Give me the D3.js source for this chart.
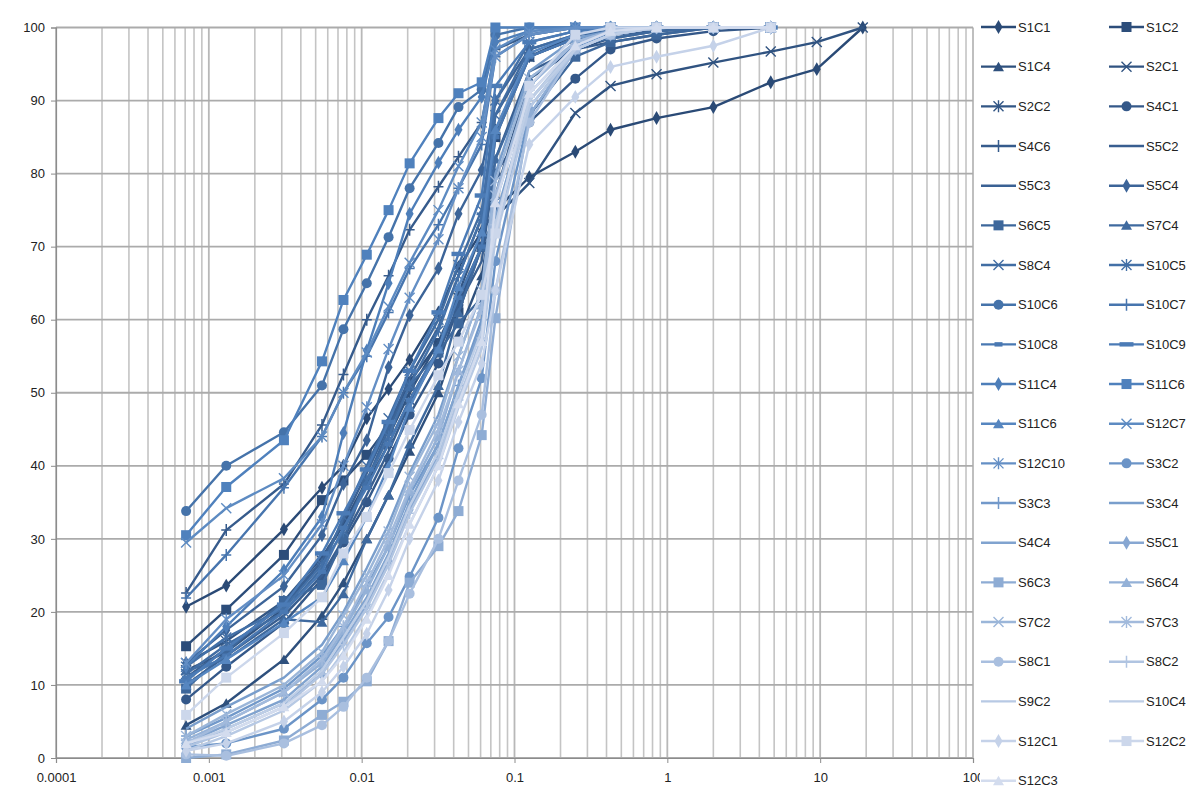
<!DOCTYPE html>
<html><head><meta charset="utf-8">
<script src="https://cdn.jsdelivr.net/npm/d3@7"></script>
<style>body{margin:0;background:#fff}text{font-family:"Liberation Sans","Open Sans",Arial,sans-serif}</style>
</head><body>
<svg id="c" width="1202" height="793"></svg>
<script>
// ---------- data ----------
const seriesNames = ["S1C1","S1C2","S1C4","S2C1","S2C2","S4C1","S4C6","S5C2","S5C3",
  "S5C4","S6C5","S7C4","S8C4","S10C5","S10C6","S10C7","S10C8","S10C9","S11C4","S11C6","S11C6","S12C7","S12C10",
  "S3C2","S3C3","S3C4","S4C4","S5C1","S6C3","S6C4","S7C2","S7C3","S8C1","S8C2","S9C2","S10C4","S12C1","S12C2","S12C3"];
const seriesMarkers = ["diamond","square","triangle","x","star","circle","plus","none","none",
  "diamond","square","triangle","x","star","circle","plus","dash","longdash","diamond","square","triangle","x","star",
  "circle","plus","none","none","diamond","square","triangle","x","star","circle","plus","none","none","diamond","square","triangle"];
// grain sizes (mm): hydrometer readings then sieves
const hydroSizes = [0.00071,0.0013,0.0031,0.0055,0.0076,0.0108,0.015,0.0206,0.0318,0.043,0.061];
const sieveSizes = [0.075,0.125,0.25,0.425,0.85,2,4.75,9.5,19];
// percent passing, one row per series (hydrometer values, then sieve values)
const passing = [
 [20.7,23.6,31.3,37.0,40.0,46.5,50.5,54.5,61.0,67.2,72.0, 75.0,79.5,83.0,86.0,87.6,89.1,92.5,94.3,100],
 [15.3,20.3,27.8,35.3,38.0,41.5,45.5,51.5,56.8,61.0,70.0, 85.0,96.0,99.0,99.5,100,100,100],
 [4.5,7.5,13.5,19.5,24.0,30.0,36.0,42.0,50.0,58.0,66.0, 77.0,93.0,97.0,98.5,99.5,100,100],
 [12.0,14.5,20.5,27.0,32.0,38.0,44.0,50.0,57.0,63.0,70.0, 74.0,78.7,88.3,92.0,93.6,95.2,96.7,98.0,100],
 [13.0,16.0,21.5,27.5,32.0,37.5,43.0,49.0,56.0,63.5,72.0, 86.0,96.0,98.5,99.0,100,100,100],
 [8.0,12.5,18.5,24.5,29.5,35.0,41.0,47.0,54.0,62.0,70.0, 80.0,87.0,93.0,97.0,98.5,99.5,100],
 [22.6,31.2,37.5,45.6,52.5,60.0,66.0,72.3,78.2,82.3,87.0, 97.0,99.0,100,100,100,100,100],
 [10.0,14.0,19.5,25.0,30.0,36.0,42.0,48.5,55.5,62.0,68.0, 82.0,94.0,97.0,98.0,99.0,100,100],
 [11.0,15.0,21.0,27.0,32.5,39.0,45.5,52.0,59.0,66.0,74.0, 88.0,96.0,98.5,99.0,99.5,100,100],
 [13.0,17.5,23.5,30.5,37.5,43.5,53.5,60.6,67.0,74.5,80.5, 90.0,97.0,99.0,99.5,100,100,100],
 [9.5,14.5,21.5,23.7,30.0,38.0,45.0,51.0,55.5,59.5,63.0, 74.0,88.0,96.0,98.0,99.0,100,100],
 [12.0,13.5,19.0,18.6,22.5,30.0,36.0,43.0,51.0,61.0,70.0, 82.0,93.0,97.5,98.5,99.5,100,100],
 [11.5,15.5,20.0,26.0,33.0,40.0,46.5,53.0,60.0,67.5,75.0, 88.0,97.0,99.0,99.5,100,100,100],
 [12.5,16.5,20.5,26.5,31.0,38.0,44.0,51.0,58.5,66.0,74.0, 90.0,98.0,99.5,100,100,100,100],
 [33.8,40.0,44.6,51.0,58.7,65.0,71.3,78.0,84.2,89.1,91.5, 99.0,100,100,100,100,100,100],
 [21.9,27.8,37.0,44.0,50.0,55.0,61.0,67.0,73.0,78.0,84.0, 96.0,99.0,100,100,100,100,100],
 [11.0,14.0,20.0,25.5,31.5,37.0,43.0,49.0,56.0,63.0,70.0, 85.0,96.0,98.5,99.5,100,100,100],
 [10.5,15.0,21.0,28.0,33.5,39.5,46.0,53.0,61.0,69.0,77.0, 92.0,98.0,99.5,100,100,100,100],
 [12.5,18.0,25.7,33.0,44.5,55.8,65.0,74.5,81.5,86.0,90.5, 98.0,99.5,100,100,100,100,100],
 [30.5,37.1,43.5,54.3,62.7,68.9,75.0,81.4,87.6,91.0,92.5, 100,100,100,100,100,100,100],
 [10.0,13.5,18.5,22.0,27.0,33.0,40.0,48.0,56.0,64.5,72.0, 86.0,96.5,99.0,100,100,100,100],
 [29.5,34.2,38.3,44.0,50.0,55.5,61.8,67.8,75.0,81.0,87.0, 97.0,99.5,100,100,100,100,100],
 [13.0,19.0,25.0,32.0,40.0,48.0,56.0,63.0,71.0,78.0,85.0, 96.0,99.0,100,100,100,100,100],
 [1.5,2.0,4.0,8.0,11.0,15.7,19.3,24.8,32.9,42.4,52.0, 68.0,88.0,97.0,99.5,100,100,100],
 [3.0,5.5,9.5,14.0,18.0,23.5,29.0,36.0,43.0,51.0,60.0, 76.0,92.0,98.0,99.5,100,100,100],
 [4.0,7.0,11.0,15.5,20.0,26.0,32.0,39.0,47.0,55.0,64.0, 80.0,94.0,98.5,99.5,100,100,100],
 [2.0,4.5,8.0,12.5,17.0,22.0,28.0,35.0,43.0,51.0,59.0, 74.0,90.0,97.0,99.0,100,100,100],
 [1.5,4.0,7.5,11.5,16.0,21.0,27.0,34.0,41.5,49.0,57.0, 72.0,89.0,97.0,99.0,100,100,100],
 [0.0,0.5,2.4,5.9,7.7,10.5,16.0,24.0,29.0,33.8,44.2, 60.2,88.0,97.0,99.0,100,100,100],
 [2.5,5.0,9.0,13.0,17.5,23.0,29.0,36.5,44.0,53.0,62.0, 76.0,91.0,97.5,99.5,100,100,100],
 [3.0,6.0,10.0,14.5,19.5,25.0,31.0,38.5,46.0,55.0,64.0, 79.0,93.0,98.0,99.5,100,100,100],
 [2.0,5.0,9.0,13.5,18.0,24.0,30.0,37.0,45.0,53.0,61.5, 77.0,92.0,98.0,99.5,100,100,100],
 [0.5,0.3,2.0,4.5,7.0,11.0,16.0,22.5,30.0,38.0,47.0, 64.0,87.0,97.0,99.0,100,100,100],
 [1.5,3.5,7.0,11.5,15.5,20.5,26.5,33.5,41.0,49.0,57.5, 73.0,90.0,97.5,99.5,100,100,100],
 [1.0,3.0,6.5,10.5,14.5,19.5,25.5,32.0,40.0,48.0,56.0, 71.0,89.0,97.0,99.0,100,100,100],
 [2.0,4.0,7.5,12.0,16.5,21.5,27.5,34.5,42.0,50.0,58.5, 73.0,90.0,97.0,99.0,100,100,100],
 [1.0,2.0,5.0,9.0,12.5,17.0,23.0,30.0,38.0,46.0,54.0, 64.0,84.0,90.5,94.6,96.0,97.5,100],
 [5.9,11.0,17.1,22.0,28.0,33.0,39.0,44.9,52.4,57.0,63.4, 71.8,92.0,99.0,100,100,100,100],
 [2.0,3.5,7.0,10.5,14.0,19.0,25.0,32.0,40.0,48.5,57.0, 76.0,91.0,97.5,99.5,100,100,100]
];
const xTickLabels = ["0.0001","0.001","0.01","0.1","1","10","100"];
const yTickValues = [0,10,20,30,40,50,60,70,80,90,100];

// ---------- layout ----------
const svg = d3.select("#c");
const L = 56, R = 973, T = 27.5, B = 758;
const x = d3.scaleLog().domain([1e-4, 100]).range([L, R]);
const y = d3.scaleLinear().domain([0, 100]).range([B, T]);
const color = d3.scaleLinear().domain([0, 19, 38]).range(["#2a4a76", "#4f81bd", "#d3dcee"]).interpolate(d3.interpolateRgb);

// gridlines
const minor = [];
for (let e = -4; e < 2; e++) for (let k = 2; k <= 9; k++) minor.push(k * Math.pow(10, e));
const major = xTickLabels.map(Number);
const grid = svg.append("g");
grid.selectAll(".vm").data(minor).join("line")
  .attr("x1", d => x(d)).attr("x2", d => x(d)).attr("y1", T).attr("y2", B)
  .attr("stroke", "#c4c4c4").attr("stroke-width", 1.6);
grid.selectAll(".vM").data(major).join("line")
  .attr("x1", d => x(d)).attr("x2", d => x(d)).attr("y1", T).attr("y2", B)
  .attr("stroke", "#b8b8b8").attr("stroke-width", 1.8);
grid.selectAll(".h").data(yTickValues).join("line")
  .attr("x1", L).attr("x2", R).attr("y1", d => y(d)).attr("y2", d => y(d))
  .attr("stroke", "#ababab").attr("stroke-width", 1.8);

// axes
const xAxis = d3.axisBottom(x).tickValues(major).tickFormat((d, i) => xTickLabels[i]).tickSize(5).tickPadding(10);
const gx = svg.append("g").attr("transform", `translate(0,${B})`).call(xAxis);
const yAxis = d3.axisLeft(y).tickValues(yTickValues).tickFormat(d3.format("d")).tickSize(5).tickPadding(6);
const gy = svg.append("g").attr("transform", `translate(${L},0)`).call(yAxis);
[gx, gy].forEach(g => {
  g.select(".domain").attr("stroke", "#8c8c8c").attr("stroke-width", 1.2);
  g.selectAll(".tick line").attr("stroke", "#8c8c8c");
  g.selectAll("text").attr("font-size", 13).attr("fill", "#222").style("font-family", '"Liberation Sans", Arial, sans-serif');
});

// marker drawing
function drawMarker(g, type, c, cx, cy, scale) {
  const s = scale || 1;
  switch (type) {
    case "diamond": g.append("path").attr("d", d3.symbol(d3.symbolDiamond, 56 * s)()).attr("transform", `translate(${cx},${cy})`).attr("fill", c); break;
    case "square": g.append("rect").attr("x", cx - 5 * s).attr("y", cy - 5 * s).attr("width", 10 * s).attr("height", 10 * s).attr("fill", c); break;
    case "triangle": g.append("path").attr("d", `M${cx},${cy - 5 * s}L${cx + 5.5 * s},${cy + 4.5 * s}L${cx - 5.5 * s},${cy + 4.5 * s}Z`).attr("fill", c); break;
    case "circle": g.append("circle").attr("cx", cx).attr("cy", cy).attr("r", 5 * s).attr("fill", c); break;
    case "x": g.append("path").attr("d", `M${cx - 5},${cy - 5}L${cx + 5},${cy + 5}M${cx - 5},${cy + 5}L${cx + 5},${cy - 5}`).attr("stroke", c).attr("stroke-width", 1.4).attr("fill", "none"); break;
    case "star": g.append("path").attr("d", `M${cx - 5},${cy - 5}L${cx + 5},${cy + 5}M${cx - 5},${cy + 5}L${cx + 5},${cy - 5}M${cx},${cy - 6}L${cx},${cy + 6}`).attr("stroke", c).attr("stroke-width", 1.4).attr("fill", "none"); break;
    case "plus": g.append("path").attr("d", `M${cx - 5},${cy}L${cx + 5},${cy}M${cx},${cy - 6}L${cx},${cy + 6}`).attr("stroke", c).attr("stroke-width", 1.5).attr("fill", "none"); break;
    case "dash": g.append("rect").attr("x", cx - 4).attr("y", cy - 2.2).attr("width", 8).attr("height", 4.4).attr("fill", c); break;
    case "longdash": g.append("rect").attr("x", cx - 7).attr("y", cy - 2.2).attr("width", 14).attr("height", 4.4).attr("fill", c); break;
  }
}

// series
const sizes = hydroSizes.concat(sieveSizes);
const line = d3.line().x(d => x(d[0])).y(d => y(d[1]));
const plot = svg.append("g");
passing.forEach((vals, i) => {
  const pts = vals.map((v, j) => [sizes[j], v]);
  const c = color(i);
  const g = plot.append("g");
  g.append("path").datum(pts).attr("d", line).attr("fill", "none").attr("stroke", c).attr("stroke-width", 2.4).attr("stroke-linejoin", "round");
  pts.forEach(p => drawMarker(g, seriesMarkers[i], c, x(p[0]), y(p[1])));
});

// legend
const leg = svg.append("g");
leg.append("rect").attr("x", 980).attr("y", 0).attr("width", 222).attr("height", 793).attr("fill", "#fff");
seriesNames.forEach((name, i) => {
  const row = Math.floor(i / 2), col = i % 2;
  const lx = col === 0 ? 981 : 1109, ly = 27 + row * 39.67;
  const c = color(i);
  leg.append("line").attr("x1", lx).attr("x2", lx + 35).attr("y1", ly).attr("y2", ly).attr("stroke", c).attr("stroke-width", 2.4);
  drawMarker(leg, seriesMarkers[i], c, lx + 17.5, ly, 1);
  leg.append("text").attr("x", lx + 37).attr("y", ly).attr("dy", "0.35em").attr("font-size", 13).attr("fill", "#222").text(name);
});
</script>
</body></html>
